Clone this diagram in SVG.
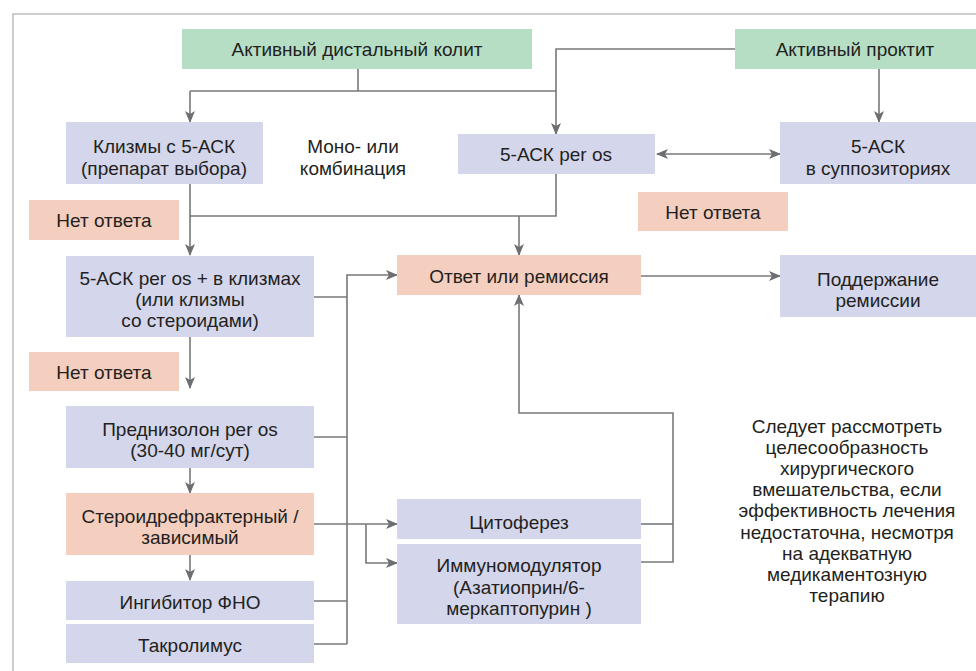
<svg xmlns="http://www.w3.org/2000/svg" width="976" height="671" viewBox="0 0 976 671">
<style>
text{font-family:"Liberation Sans","Noto Sans",Arial,sans-serif;font-size:19px;fill:#231f20;text-anchor:middle}
.g{fill:#b6dec5}
.b{fill:#d4d6ec}
.o{fill:#f4cebe}
.c{fill:none;stroke:#77787b;stroke-width:1.6}
.a{marker-end:url(#ah)}
</style>
<defs>
<marker id="ah" viewBox="0 0 12 10" refX="11" refY="5" markerWidth="12" markerHeight="10" markerUnits="userSpaceOnUse" orient="auto-start-reverse">
<path d="M0,0 L12,5 L0,10 L3,5 z" fill="#6d6e72"/>
</marker>
</defs>
<rect width="976" height="671" fill="#fff"/>
<path d="M13,671 V14 H976" fill="none" stroke="#bcbdc0" stroke-width="1.5"/>

<g id="connectors">
<path class="c" d="M358,69 V91"/>
<path class="c a" d="M190,91 V122"/>
<path class="c a" d="M190,91 H556 V134"/>
<path class="c" d="M735,49 H556 V91"/>
<path class="c a" d="M879,69 V122"/>
<path class="c a" d="M657,154 H780" marker-start="url(#ah)"/>
<path class="c a" d="M190,184 V255"/>
<path class="c" d="M190,216 H556 V174"/>
<path class="c a" d="M519,216 V255"/>
<path class="c a" d="M641,276 H780"/>
<path class="c" d="M314,297 H347"/>
<path class="c a" d="M347,644 V275 H397"/>
<path class="c a" d="M190,337 V388"/>
<path class="c" d="M314,437 H347"/>
<path class="c a" d="M190,468 V493"/>
<path class="c a" d="M190,555 V580"/>
<path class="c" d="M314,601 H347"/>
<path class="c" d="M314,644 H347"/>
<path class="c a" d="M314,524 H397"/>
<path class="c a" d="M366,524 V563 H397"/>
<path class="c" d="M641,524 H673"/>
<path class="c a" d="M641,562 H673 V413 H519 V295"/>
</g>

<g id="n-distal"><rect class="g" x="182" y="29" width="350" height="40"/><text x="357" y="56">Активный дистальный колит</text></g>
<g id="n-proctit"><rect class="g" x="735" y="29" width="241" height="40"/><text x="855" y="56">Активный проктит</text></g>
<g id="n-klizmy"><rect class="b" x="66" y="122" width="197" height="62"/><text x="164" y="153">Клизмы с 5-АСК</text><text x="164" y="175">(препарат выбора)</text></g>
<g id="n-mono"><text x="353" y="153">Моно- или</text><text x="353" y="175">комбинация</text></g>
<g id="n-peros"><rect class="b" x="458" y="134" width="197" height="40"/><text x="556" y="161">5-АСК per os</text></g>
<g id="n-supp"><rect class="b" x="780" y="122" width="196" height="62"/><text x="878" y="153">5-АСК</text><text x="878" y="175">в суппозиториях</text></g>
<g id="n-net1"><rect class="o" x="29" y="200" width="150" height="40"/><text x="104" y="227">Нет ответа</text></g>
<g id="n-net2"><rect class="o" x="638" y="192" width="150" height="39"/><text x="713" y="219">Нет ответа</text></g>
<g id="n-combo"><rect class="b" x="66" y="256" width="248" height="81"/><text x="190" y="285">5-АСК per os + в клизмах</text><text x="190" y="306">(или клизмы</text><text x="190" y="327">со стероидами)</text></g>
<g id="n-otvet"><rect class="o" x="397" y="255" width="244" height="40"/><text x="519" y="283">Ответ или ремиссия</text></g>
<g id="n-podd"><rect class="b" x="780" y="255" width="196" height="62"/><text x="878" y="286">Поддержание</text><text x="878" y="307">ремиссии</text></g>
<g id="n-net3"><rect class="o" x="29" y="352" width="150" height="39"/><text x="104" y="379">Нет ответа</text></g>
<g id="n-pred"><rect class="b" x="66" y="406" width="248" height="62"/><text x="190" y="436">Преднизолон per os</text><text x="190" y="457">(30-40 мг/сут)</text></g>
<g id="n-steroid"><rect class="o" x="66" y="493" width="248" height="62"/><text x="190" y="523">Стероидрефрактерный /</text><text x="190" y="544">зависимый</text></g>
<g id="n-fno"><rect class="b" x="66" y="581" width="248" height="39"/><text x="190" y="609">Ингибитор ФНО</text></g>
<g id="n-takro"><rect class="b" x="66" y="624" width="248" height="39"/><text x="190" y="652">Такролимус</text></g>
<g id="n-cito"><rect class="b" x="397" y="499" width="244" height="40"/><text x="519" y="529">Цитоферез</text></g>
<g id="n-immuno"><rect class="b" x="397" y="544" width="244" height="80"/><text x="519" y="572">Иммуномодулятор</text><text x="519" y="594">(Азатиоприн/6-</text><text x="519" y="615">меркаптопурин )</text></g>
<g id="n-note"><text x="847" y="433">Следует рассмотреть</text><text x="847" y="454">целесообразность</text><text x="847" y="475">хирургического</text><text x="847" y="496">вмешательства, если</text><text x="847" y="517">эффективность лечения</text><text x="847" y="539">недостаточна, несмотря</text><text x="847" y="560">на адекватную</text><text x="847" y="581">медикаментозную</text><text x="847" y="602">терапию</text></g>
</svg>
